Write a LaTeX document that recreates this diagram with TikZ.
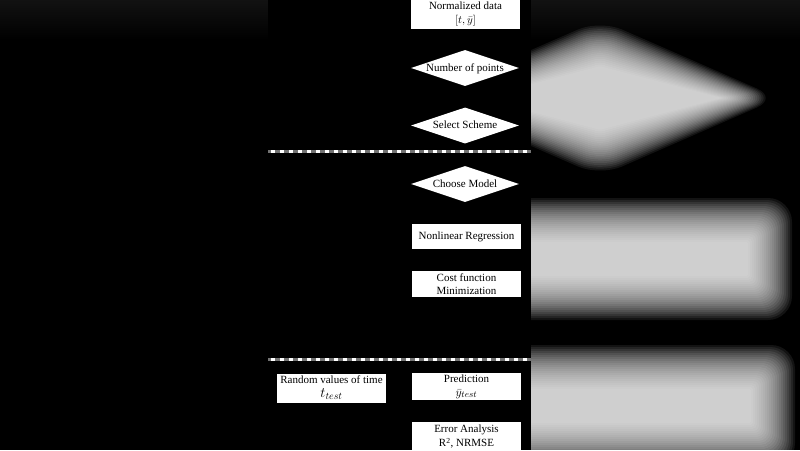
\documentclass[tikz,border=0pt]{standalone}
\usepackage{fontspec}
\setmainfont{Liberation Serif}
\usetikzlibrary{shapes.geometric}

\tikzset{
  procbox/.style={rectangle, fill=white, text=black, inner sep=1pt, align=center,
    minimum width=109pt, font=\fontsize{11}{14}\selectfont},
  choice/.style={diamond, fill=white, text=black, inner sep=0pt, aspect=3,
    text height=7pt, text depth=1pt, minimum width=108pt, minimum height=36pt,
    font=\fontsize{11}{13}\selectfont},
  blurlayer/.style={fill=white, fill opacity=.075},
  sepline/.style={line width=3pt, white!45!black},
  sepdash/.style={line width=3pt, white, dash pattern=on 4pt off 5pt, dash phase=-3pt},
}

\begin{document}
\begin{tikzpicture}[x=1pt,y=-1pt]
\useasboundingbox (0,0) rectangle (800,450);
\fill[black] (0,0) rectangle (800,450);

% blurred copy behind the panel
\shade[top color=white!7!black, bottom color=black] (0,0) rectangle (800,40);
\foreach \d in {-22,-20,...,22} {
  \pgfmathsetmacro{\rc}{max(1,(\d+26)/2)}
  \pgfmathsetmacro{\hw}{150+1.3*\d}
  \pgfmathsetmacro{\hh}{55+1.05*\d}
  \pgfmathsetmacro{\xl}{435-\d}
  \pgfmathsetmacro{\xr}{770+\d}
  \pgfmathsetmacro{\xk}{437-\d}
  \pgfmathsetmacro{\xs}{773+\d}
  \pgfmathsetmacro{\ya}{220-\d}
  \pgfmathsetmacro{\yb}{298+\d}
  \pgfmathsetmacro{\yc}{367-\d}
  \pgfmathsetmacro{\yd}{445+\d}
  \fill[blurlayer, rounded corners=\rc pt] (600-\hw,98) -- (600,98-\hh)
    -- (600+\hw,98) -- (600,98+\hh) -- cycle;
  \fill[blurlayer, rounded corners=\rc pt] (\xl,\ya) rectangle (\xr,\yb);
  \fill[blurlayer, rounded corners=\rc pt] (\xk,\yc) rectangle (\xs,\yd);
}

% panel
\fill[black] (268,0) rectangle (531,450);

\node[procbox, minimum height=29pt] (normdata) at (465.5,14.5) {Normalized data\\$[t,\bar{y}]$};
\node[choice] (npoints) at (465,68) {Number of points};
\node[choice] (scheme) at (465,125.5) {Select Scheme};

\coordinate (sepAw) at (268,151);
\coordinate (sepAe) at (531,151);
\draw[sepline] (sepAw) -- (sepAe);
\draw[sepdash] (sepAw) -- (sepAe);

\node[choice] (model) at (465,184) {Choose Model};
\node[procbox, minimum height=25pt] (nlreg) at (466.5,236.5) {Nonlinear Regression};
\node[procbox, minimum height=26pt, font=\fontsize{11}{13}\selectfont] (costfn) at (466.5,284) {Cost function\\Minimization};

\coordinate (sepBw) at (268,359);
\coordinate (sepBe) at (531,359);
\draw[sepline] (sepBw) -- (sepBe);
\draw[sepdash] (sepBw) -- (sepBe);

\node[procbox, minimum height=29pt] (randt) at (331.5,388) {Random values of time\\{\fontsize{14}{14}\selectfont $t_{test}$}};
\node[procbox, minimum height=27pt] (predict) at (466.5,386.5) {Prediction\\{\fontsize{13}{13}\selectfont $\bar{y}_{test}$}};
\node[procbox, minimum height=30pt] (erran) at (466.5,437) {Error Analysis\\R\textsuperscript{2}, NRMSE};

\end{tikzpicture}
\end{document}
